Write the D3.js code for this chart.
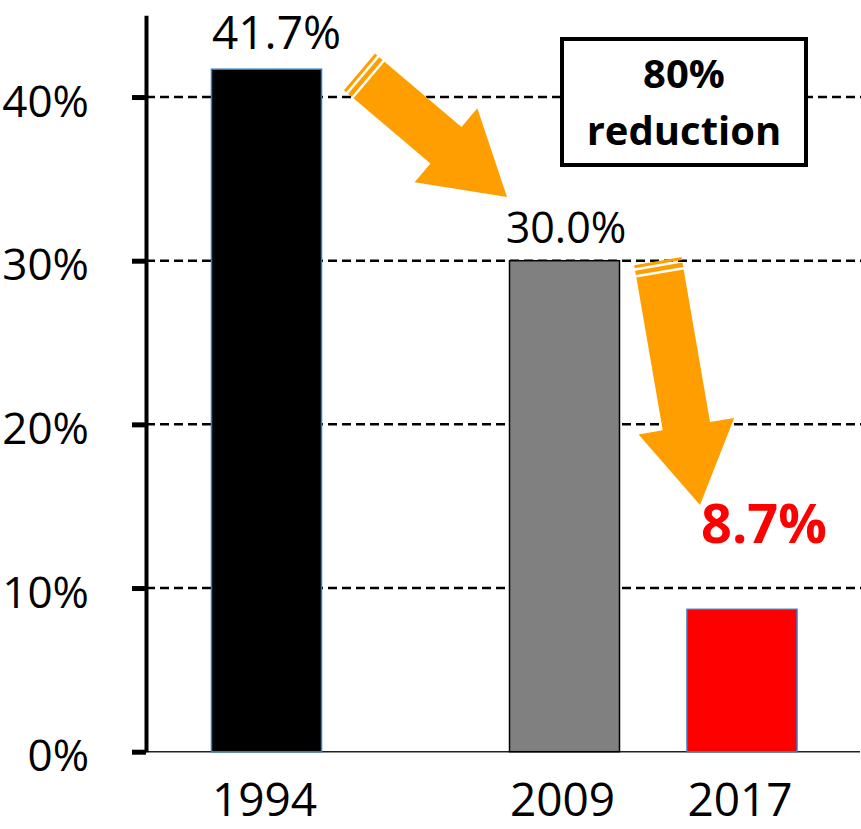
<!DOCTYPE html>
<html>
<head>
<meta charset="utf-8">
<script src="https://cdn.jsdelivr.net/npm/d3@7"></script>
<style>
  html, body { margin: 0; padding: 0; background: #fff; }
  svg { display: block; font-family: "Open Sans", "Liberation Sans", sans-serif; }
</style>
</head>
<body>
<svg id="chart" width="861" height="829"></svg>
<script>
// chart values
var years = [1994, 2009, 2017];
var shares = [41.7, 30.0, 8.7];
var valueLabels = ["41.7%", "30.0%", "8.7%"];
var barFills = ["#000000", "#808080", "#ff0000"];
var barStrokes = ["#2f7ec4", "#000000", "#2f7ec4"];
var yTicks = [0, 10, 20, 30, 40];
var boxLines = ["80%", "reduction"];

const WIDTH = 861;
const HEIGHT = 829;
const AXIS_X = 146;
const BAR_W = 110;
const ORANGE = "#ff9e00";

var svg = d3.select("#chart");

var y = d3.scaleLinear().domain([0, 45]).range([751.7, 15.2]);
// uneven spacing of the years in the original, kept with a piecewise scale
var x = d3.scaleLinear().domain(years).range([266.5, 564.5, 742]);

var data = years.map((yr, i) => ({
  year: yr,
  value: shares[i],
  label: valueLabels[i],
  fill: barFills[i],
  stroke: barStrokes[i],
}));

// dashed grid lines
svg
  .append("g")
  .selectAll("line")
  .data(yTicks.filter((t) => t > 0))
  .enter()
  .append("line")
  .attr("x1", AXIS_X)
  .attr("x2", WIDTH)
  .attr("y1", (d) => y(d))
  .attr("y2", (d) => y(d))
  .attr("stroke", "#000")
  .attr("stroke-width", 2.5)
  .attr("stroke-dasharray", "9,5");

// baseline
svg
  .append("line")
  .attr("x1", AXIS_X)
  .attr("x2", 860)
  .attr("y1", y(0))
  .attr("y2", y(0))
  .attr("stroke", "#222")
  .attr("stroke-width", 1.5);

// bars
svg
  .append("g")
  .selectAll("rect")
  .data(data)
  .enter()
  .append("rect")
  .attr("x", (d) => x(d.year) - BAR_W / 2)
  .attr("y", (d) => y(d.value))
  .attr("width", BAR_W)
  .attr("height", (d) => y(0) - y(d.value))
  .attr("fill", (d) => d.fill)
  .attr("stroke", (d) => d.stroke)
  .attr("stroke-width", 1.5);

// y axis
var yAxis = d3
  .axisLeft(y)
  .tickValues(yTicks)
  .tickSize(14)
  .tickSizeOuter(0)
  .tickFormat((d) => d + "%");

var ax = svg
  .append("g")
  .attr("transform", "translate(" + AXIS_X + ",0)")
  .call(yAxis);
ax.select(".domain").attr("stroke", "#000").attr("stroke-width", 4);
ax.selectAll(".tick line").attr("stroke", "#000").attr("stroke-width", 5);
ax.selectAll(".tick text")
  .attr("x", -57)
  .attr("dy", null)
  .attr("y", 19)
  .attr("fill", "#000")
  .style("font-size", "44px")
  .style("font-family", '"Open Sans", sans-serif');

// x labels
svg
  .append("g")
  .selectAll("text")
  .data(data)
  .enter()
  .append("text")
  .attr("x", (d) => x(d.year) - 2)
  .attr("y", 816)
  .attr("text-anchor", "middle")
  .style("font-size", "46px")
  .text((d) => d.year);

// value labels (placed by hand in the original)
var lbl = svg.append("g");
lbl.append("text")
  .attr("x", x(data[0].year) + 10)
  .attr("y", y(data[0].value) - 20)
  .attr("text-anchor", "middle")
  .style("font-size", "46px")
  .text(data[0].label);
lbl.append("text")
  .attr("x", x(data[1].year) + 1.5)
  .attr("y", y(data[1].value) - 18)
  .attr("text-anchor", "middle")
  .style("font-size", "43px")
  .text(data[1].label);
lbl.append("text")
  .attr("x", x(data[2].year) + 22)
  .attr("y", y(data[2].value) - 66)
  .attr("text-anchor", "middle")
  .attr("fill", "#ff0000")
  .style("font-size", "54px")
  .style("font-weight", "bold")
  .text(data[2].label);

/**
 * Striped block arrow from a tail centre to a tip.
 */
function stripedArrow(g, tail, tip, bodyW, headW, headL) {
  var dx = tip[0] - tail[0], dy = tip[1] - tail[1];
  var len = Math.sqrt(dx * dx + dy * dy);
  var u = [dx / len, dy / len];
  var n = [-u[1], u[0]];
  var pt = (t, s) => [tail[0] + u[0] * t + n[0] * s, tail[1] + u[1] * t + n[1] * s];
  var b = bodyW / 2, h = headW / 2, hb = len - headL;
  var shape = [pt(0, -b), pt(hb, -b), pt(hb, -h), pt(len, 0), pt(hb, h), pt(hb, b), pt(0, b)];
  g.append("path")
    .attr("d", "M" + shape.join("L") + "Z")
    .attr("fill", ORANGE);
  [[-7, -2.5], [-12.5, -9.5]].forEach((s) => {
    var q = [pt(s[0], -b), pt(s[1], -b), pt(s[1], b), pt(s[0], b)];
    g.append("path")
      .attr("d", "M" + q.join("L") + "Z")
      .attr("fill", ORANGE);
  });
}

var arrows = svg.append("g");
stripedArrow(arrows, [369, 80], [507, 197], 48, 97, 80);
stripedArrow(arrows, [660, 273.5], [700, 505], 48, 97, 80);

// "80% reduction" box
var box = svg.append("g");
box.append("rect")
  .attr("x", 562)
  .attr("y", 39)
  .attr("width", 244)
  .attr("height", 126)
  .attr("fill", "#fff")
  .attr("stroke", "#000")
  .attr("stroke-width", 4);
box.selectAll("text")
  .data(boxLines)
  .enter()
  .append("text")
  .attr("x", 684)
  .attr("y", (d, i) => 88 + i * 57)
  .attr("text-anchor", "middle")
  .style("font-size", "40px")
  .style("font-weight", "bold")
  .text((d) => d);
</script>
</body>
</html>
